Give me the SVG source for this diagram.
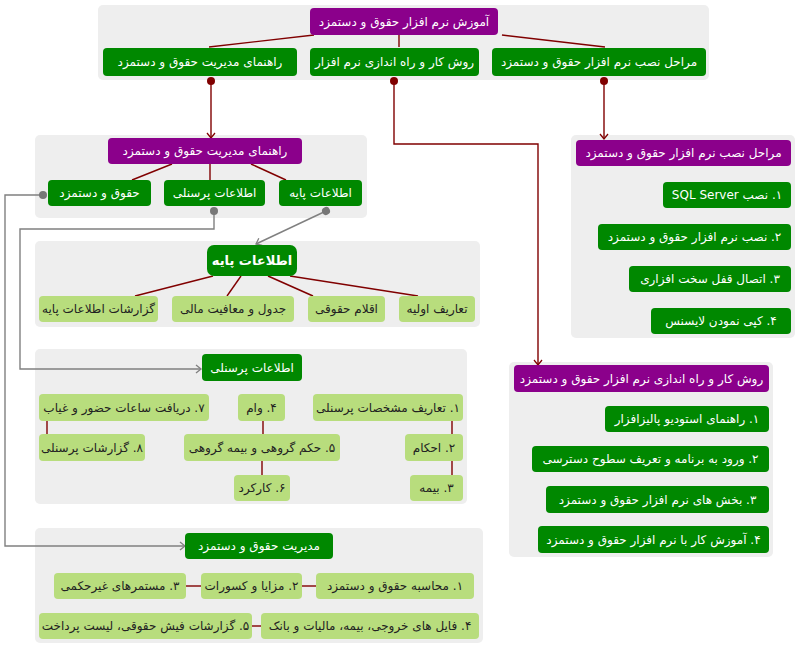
<svg xmlns="http://www.w3.org/2000/svg" width="800" height="649" viewBox="0 0 800 649">
<defs>
<style>
.ct{fill:#eeeeee}
.pu{fill:#8b008b}
.gr{fill:#008800}
.lg{fill:#b8dd7d}
text{font-family:"DejaVu Sans","Noto Sans",sans-serif;font-size:12px;text-anchor:middle;dominant-baseline:central;direction:rtl}
.tw{fill:#ffffff}
.td{fill:#222222}
.b{font-weight:bold;font-size:13px}
.ln{stroke:#800000;stroke-width:1.4;fill:none}
.lnr{stroke:#800000;stroke-width:1.4;fill:none}
.lng{stroke:#808080;stroke-width:1.4;fill:none}
</style>
<marker id="ar" markerUnits="userSpaceOnUse" markerWidth="12" markerHeight="12" refX="9" refY="6" orient="auto">
<path d="M4,2 L9,6 L4,10" fill="none" stroke="#800000" stroke-width="1.3"/>
</marker>
<marker id="ag" markerUnits="userSpaceOnUse" markerWidth="12" markerHeight="12" refX="9" refY="6" orient="auto">
<path d="M4,2 L9,6 L4,10" fill="none" stroke="#808080" stroke-width="1.3"/>
</marker>
<marker id="dr" markerUnits="userSpaceOnUse" markerWidth="10" markerHeight="10" refX="5" refY="5" orient="auto">
<circle cx="5" cy="5" r="4" fill="#800000"/>
</marker>
<marker id="dg" markerUnits="userSpaceOnUse" markerWidth="10" markerHeight="10" refX="5" refY="5" orient="auto">
<circle cx="5" cy="5" r="4" fill="#777777"/>
</marker>
</defs>

<g id="containers">
<rect class="ct" x="98" y="5" width="611" height="75" rx="5"/>
<rect class="ct" x="35" y="135" width="332" height="83" rx="5"/>
<rect class="ct" x="35" y="241" width="445" height="86" rx="5"/>
<rect class="ct" x="35" y="349" width="432" height="155" rx="5"/>
<rect class="ct" x="35" y="528" width="448" height="115" rx="5"/>
<rect class="ct" x="571" y="135" width="224" height="203" rx="5"/>
<rect class="ct" x="509" y="362" width="264" height="195" rx="5"/>
</g>

<g id="connectors">
<line class="ln" x1="314" y1="35" x2="209" y2="47"/>
<line class="ln" x1="399" y1="35" x2="399" y2="47"/>
<line class="ln" x1="502" y1="35" x2="605" y2="47"/>
<path class="lnr" d="M211,81 V138" marker-start="url(#dr)" marker-end="url(#ar)"/>
<path class="lnr" d="M604,81 V139" marker-start="url(#dr)" marker-end="url(#ar)"/>
<path class="lnr" d="M394,81 V144 H538 V365" marker-start="url(#dr)" marker-end="url(#ar)"/>
<line class="ln" x1="172" y1="164" x2="132" y2="180"/>
<line class="ln" x1="210" y1="164" x2="210" y2="180"/>
<line class="ln" x1="251" y1="164" x2="286" y2="180"/>
<path class="lng" d="M43,195 H5 V546 H185" marker-start="url(#dg)" marker-end="url(#ag)"/>
<path class="lng" d="M214,211 V229 H20 V369 H201" marker-start="url(#dg)" marker-end="url(#ag)"/>
<path class="lng" d="M326,211 L256,244" marker-start="url(#dg)" marker-end="url(#ag)"/>
<line class="ln" x1="290" y1="276" x2="418" y2="296"/>
<line class="ln" x1="268" y1="276" x2="313" y2="296"/>
<line class="ln" x1="241" y1="276" x2="227" y2="296"/>
<line class="ln" x1="213" y1="276" x2="135" y2="296"/>
<line class="ln" x1="452" y1="421" x2="452" y2="434"/>
<line class="ln" x1="452" y1="461" x2="452" y2="475"/>
<line class="ln" x1="263" y1="421" x2="263" y2="434"/>
<line class="ln" x1="262" y1="461" x2="262" y2="475"/>
<line class="ln" x1="47" y1="421" x2="47" y2="434"/>
<line class="ln" x1="302" y1="586" x2="316" y2="586"/>
<line class="ln" x1="186" y1="586" x2="201" y2="586"/>
<line class="ln" x1="252" y1="626" x2="261" y2="626"/>
</g>

<g id="n-root"><rect class="pu" x="310" y="8" width="188" height="27" rx="4"/><text class="tw" x="404" y="21.5">آموزش نرم افزار حقوق و دستمزد</text></g>
<g id="n-guide"><rect class="gr" x="103" y="48" width="194" height="28" rx="4"/><text class="tw" x="200" y="62">راهنمای مدیریت حقوق و دستمزد</text></g>
<g id="n-method"><rect class="gr" x="310" y="48" width="169" height="28" rx="4"/><text class="tw" x="394.5" y="62">روش کار و راه اندازی نرم افزار</text></g>
<g id="n-install"><rect class="gr" x="492" y="48" width="214" height="28" rx="4"/><text class="tw" x="599" y="62">مراحل نصب نرم افزار حقوق و دستمزد</text></g>

<g id="n-guide-h"><rect class="pu" x="108" y="138" width="194" height="26" rx="4"/><text class="tw" x="205" y="151">راهنمای مدیریت حقوق و دستمزد</text></g>
<g id="n-payroll"><rect class="gr" x="48" y="180" width="103" height="26" rx="4"/><text class="tw" x="99.5" y="193">حقوق و دستمزد</text></g>
<g id="n-personnel"><rect class="gr" x="164" y="180" width="101" height="26" rx="4"/><text class="tw" x="214.5" y="193">اطلاعات پرسنلی</text></g>
<g id="n-base"><rect class="gr" x="279" y="180" width="83" height="26" rx="4"/><text class="tw" x="320.5" y="193">اطلاعات پایه</text></g>

<g id="n-base-h"><rect class="gr" x="207" y="245" width="90" height="31" rx="7"/><text class="tw b" x="252" y="260.5">اطلاعات پایه</text></g>
<g id="n-b1"><rect class="lg" x="399" y="296" width="76" height="26" rx="4"/><text class="td" x="437" y="309">تعاریف اولیه</text></g>
<g id="n-b2"><rect class="lg" x="308" y="296" width="77" height="26" rx="4"/><text class="td" x="346.5" y="309">اقلام حقوقی</text></g>
<g id="n-b3"><rect class="lg" x="172" y="296" width="122" height="26" rx="4"/><text class="td" x="233" y="309">جدول و معافیت مالی</text></g>
<g id="n-b4"><rect class="lg" x="39" y="296" width="119" height="26" rx="4"/><text class="td" x="98.5" y="309">گزارشات اطلاعات پایه</text></g>

<g id="n-pers-h"><rect class="gr" x="202" y="354" width="100" height="27" rx="4"/><text class="tw" x="252" y="367.5">اطلاعات پرسنلی</text></g>
<g id="n-p1"><rect class="lg" x="313" y="394" width="150" height="27" rx="4"/><text class="td" x="388" y="407.5">۱. تعاریف مشخصات پرسنلی</text></g>
<g id="n-p2"><rect class="lg" x="405" y="434" width="58" height="27" rx="4"/><text class="td" x="434" y="447.5">۲. احکام</text></g>
<g id="n-p3"><rect class="lg" x="410" y="475" width="53" height="26" rx="4"/><text class="td" x="436.5" y="488">۳. بیمه</text></g>
<g id="n-p4"><rect class="lg" x="238" y="394" width="47" height="27" rx="4"/><text class="td" x="261.5" y="407.5">۴. وام</text></g>
<g id="n-p5"><rect class="lg" x="184" y="434" width="156" height="27" rx="4"/><text class="td" x="262" y="447.5">۵. حکم گروهی و بیمه گروهی</text></g>
<g id="n-p6"><rect class="lg" x="234" y="475" width="56" height="26" rx="4"/><text class="td" x="262" y="488">۶. کارکرد</text></g>
<g id="n-p7"><rect class="lg" x="39" y="394" width="170" height="27" rx="4"/><text class="td" x="124" y="407.5">۷. دریافت ساعات حضور و غیاب</text></g>
<g id="n-p8"><rect class="lg" x="39" y="434" width="106" height="27" rx="4"/><text class="td" x="92" y="447.5">۸. گزارشات پرسنلی</text></g>

<g id="n-pay-h"><rect class="gr" x="185" y="533" width="148" height="26" rx="4"/><text class="tw" x="259" y="546">مدیریت حقوق و دستمزد</text></g>
<g id="n-m1"><rect class="lg" x="316" y="573" width="158" height="26" rx="4"/><text class="td" x="395" y="586">۱. محاسبه حقوق و دستمزد</text></g>
<g id="n-m2"><rect class="lg" x="201" y="573" width="101" height="26" rx="4"/><text class="td" x="251.5" y="586">۲. مزایا و کسورات</text></g>
<g id="n-m3"><rect class="lg" x="54" y="573" width="132" height="26" rx="4"/><text class="td" x="120" y="586">۳. مستمرهای غیرحکمی</text></g>
<g id="n-m4"><rect class="lg" x="261" y="613" width="218" height="26" rx="4"/><text class="td" x="370" y="626">۴. فایل های خروجی، بیمه، مالیات و بانک</text></g>
<g id="n-m5"><rect class="lg" x="39" y="613" width="213" height="26" rx="4"/><text class="td" x="145.5" y="626">۵. گزارشات فیش حقوقی، لیست پرداخت</text></g>

<g id="n-inst-h"><rect class="pu" x="576" y="140" width="215" height="26" rx="4"/><text class="tw" x="683.5" y="153">مراحل نصب نرم افزار حقوق و دستمزد</text></g>
<g id="n-i1"><rect class="gr" x="663" y="182" width="128" height="26" rx="4"/><text class="tw" x="727" y="195">۱. نصب SQL Server</text></g>
<g id="n-i2"><rect class="gr" x="598" y="224" width="193" height="26" rx="4"/><text class="tw" x="694.5" y="237">۲. نصب نرم افزار حقوق و دستمزد</text></g>
<g id="n-i3"><rect class="gr" x="629" y="266" width="162" height="26" rx="4"/><text class="tw" x="710" y="279">۳. اتصال قفل سخت افزاری</text></g>
<g id="n-i4"><rect class="gr" x="651" y="308" width="140" height="26" rx="4"/><text class="tw" x="721" y="321">۴. کپی نمودن لایسنس</text></g>

<g id="n-meth-h"><rect class="pu" x="514" y="365" width="255" height="27" rx="4"/><text class="tw" x="641.5" y="378.5">روش کار و راه اندازی نرم افزار حقوق و دستمزد</text></g>
<g id="n-w1"><rect class="gr" x="605" y="406" width="164" height="26" rx="4"/><text class="tw" x="687" y="419">۱. راهنمای استودیو پالیزافزار</text></g>
<g id="n-w2"><rect class="gr" x="532" y="446" width="237" height="26" rx="4"/><text class="tw" x="650.5" y="459">۲. ورود به برنامه و تعریف سطوح دسترسی</text></g>
<g id="n-w3"><rect class="gr" x="546" y="486" width="223" height="27" rx="4"/><text class="tw" x="657.5" y="499.5">۳. بخش های نرم افزار حقوق و دستمزد</text></g>
<g id="n-w4"><rect class="gr" x="538" y="526" width="231" height="27" rx="4"/><text class="tw" x="653.5" y="539.5">۴. آموزش کار با نرم افزار حقوق و دستمزد</text></g>
</svg>
